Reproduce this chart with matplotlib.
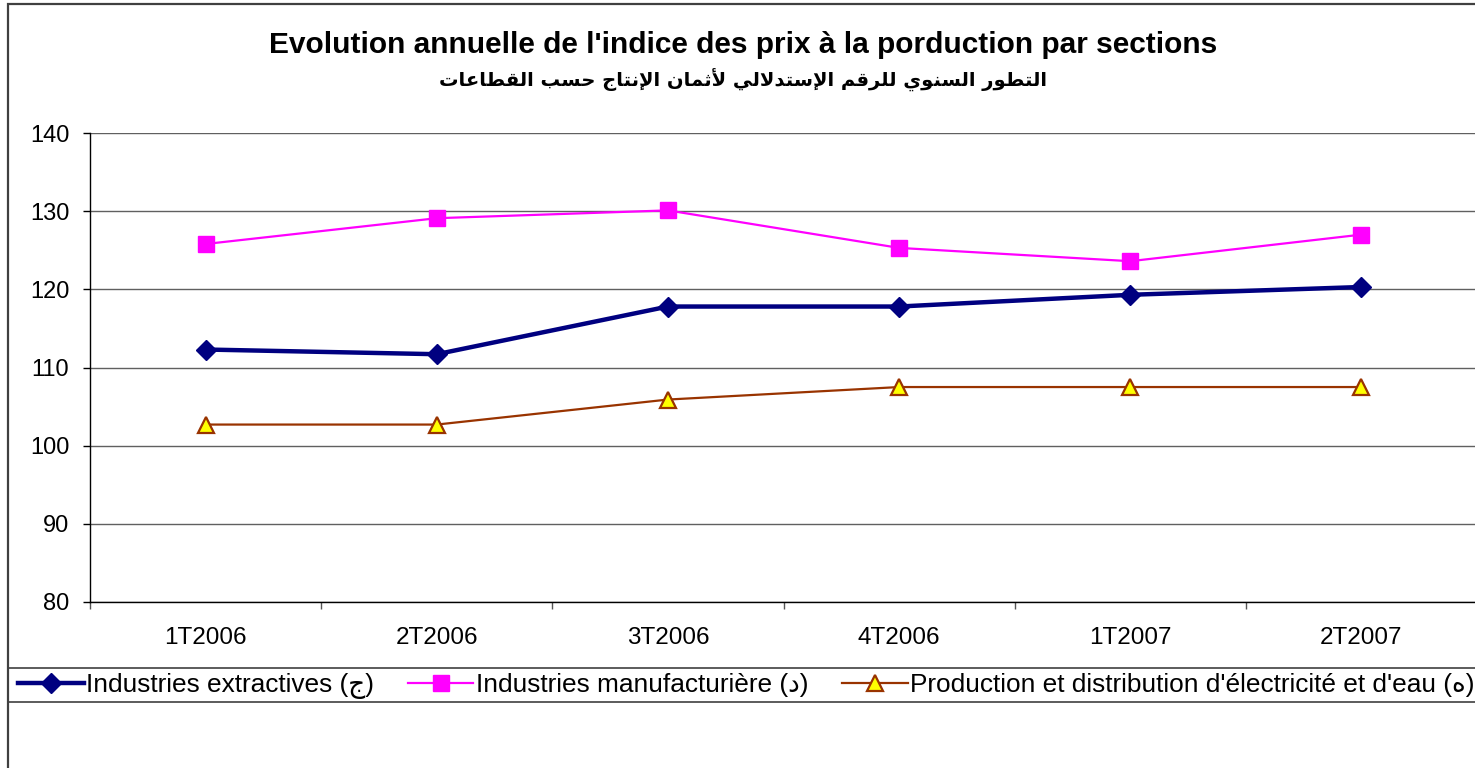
import matplotlib
matplotlib.use("Agg")
import matplotlib.pyplot as plt
from matplotlib.patches import Rectangle

# data
quarters = ["1T2006", "2T2006", "3T2006", "4T2006", "1T2007", "2T2007"]
extractives = [112.3, 111.7, 117.8, 117.8, 119.3, 120.3]
manufacturiere = [125.8, 129.1, 130.1, 125.3, 123.6, 127.0]
electricite = [102.7, 102.7, 105.9, 107.5, 107.5, 107.5]
labels = ["Industries extractives (ج)",
          "Industries manufacturière (د)",
          "Production et distribution d'électricité et d'eau (ه)"]
title = "Evolution annuelle de l'indice des prix à la porduction par sections"
subtitle = "التطور السنوي للرقم الإستدلالي لأثمان الإنتاج حسب القطاعات"

# matplotlib does no Arabic shaping, so pick presentation forms by hand
# (isolated, final, initial, medial); two forms = joins only to the right
forms = {
    "ا": "\uFE8D\uFE8E", "أ": "\uFE83\uFE84", "إ": "\uFE87\uFE88",
    "ب": "\uFE8F\uFE90\uFE91\uFE92", "ت": "\uFE95\uFE96\uFE97\uFE98",
    "ث": "\uFE99\uFE9A\uFE9B\uFE9C", "ج": "\uFE9D\uFE9E\uFE9F\uFEA0",
    "ح": "\uFEA1\uFEA2\uFEA3\uFEA4", "د": "\uFEA9\uFEAA", "ر": "\uFEAD\uFEAE",
    "س": "\uFEB1\uFEB2\uFEB3\uFEB4", "ط": "\uFEC1\uFEC2\uFEC3\uFEC4",
    "ع": "\uFEC9\uFECA\uFECB\uFECC", "ق": "\uFED5\uFED6\uFED7\uFED8",
    "ل": "\uFEDD\uFEDE\uFEDF\uFEE0", "م": "\uFEE1\uFEE2\uFEE3\uFEE4",
    "ن": "\uFEE5\uFEE6\uFEE7\uFEE8", "و": "\uFEED\uFEEE",
    "ي": "\uFEF1\uFEF2\uFEF3\uFEF4", "ه": "\uFEE9\uFEEA\uFEEB\uFEEC",
}
lam_alef = {"ا": "\uFEFB\uFEFC", "أ": "\uFEF7\uFEF8", "إ": "\uFEF9\uFEFA"}


def shape_arabic(text):
    out = []
    i = 0
    while i < len(text):
        ch = text[i]
        if ch not in forms:
            out.append(ch)
            i += 1
            continue
        prev = text[i - 1] if i > 0 else ""
        joins_prev = prev in forms and len(forms[prev]) == 4
        if ch == "ل" and i + 1 < len(text) and text[i + 1] in lam_alef:
            out.append(lam_alef[text[i + 1]][1 if joins_prev else 0])
            i += 2
            continue
        nxt = text[i + 1] if i + 1 < len(text) else ""
        joins_next = len(forms[ch]) == 4 and nxt in forms
        if joins_prev and joins_next:
            k = 3
        elif joins_prev:
            k = 1
        elif joins_next:
            k = 2
        else:
            k = 0
        out.append(forms[ch][k])
        i += 1
    return "".join(out)[::-1]


fam = ["Liberation Sans", "DejaVu Sans"]
plt.rcParams["font.family"] = fam

W, H = 1475, 768
fig = plt.figure(figsize=(W / 100, H / 100), dpi=100)
ax = fig.add_axes([90 / W, 1 - 602 / H, 1387 / W, 469 / H])

x = list(range(len(quarters)))
ax.plot(x, extractives, color="#000080", lw=3.2, marker="D", ms=10.5,
        mfc="#000080", mec="#000080", label=labels[0], zorder=5)
ax.plot(x, manufacturiere, color="#FF00FF", lw=1.6, marker="s", ms=11,
        mfc="#FF00FF", mec="#FF00FF", label=labels[1], zorder=4)
ax.plot(x, electricite, color="#993300", lw=1.6, marker="^", ms=11,
        mfc="#FFFF00", mec="#993300", mew=1.6, label=labels[2], zorder=4)

ax.set_xlim(-0.5, len(quarters) - 0.5)
ax.set_ylim(80, 140)
ax.set_yticks(range(80, 141, 10))
ax.set_xticks(x)
ax.set_xticklabels(quarters)
ax.set_xticks([v - 0.5 for v in range(len(quarters) + 1)], minor=True)
ax.tick_params(axis="x", which="major", length=0, pad=18, labelsize=17.5)
ax.tick_params(axis="x", which="minor", length=5, width=1, color="#555555")
ax.tick_params(axis="y", length=5, width=1, pad=10, labelsize=17)
ax.grid(axis="y", color="#606060", lw=1)
ax.set_axisbelow(True)
for s in ["top", "right"]:
    ax.spines[s].set_visible(False)
ax.spines["left"].set_linewidth(1)
ax.spines["bottom"].set_linewidth(1)

fig.text(743 / W, 1 - 45 / H, title, ha="center", va="center",
         fontsize=21.5, fontweight="bold")
fig.text(743 / W, 1 - 80 / H, shape_arabic(subtitle), ha="center", va="center",
         fontsize=14, fontweight="bold", family=["DejaVu Sans"])

fig.legend(loc="center left", bbox_to_anchor=(18 / W, 1 - 686 / H), ncol=3,
           frameon=False, fontsize=18.9, handlelength=2.5, handletextpad=0.08,
           columnspacing=1.3, borderaxespad=0, borderpad=0)

# legend box and outer chart frame
fig.patches.append(Rectangle((8 / W, 1 - 702 / H), 1.2, 34 / H,
                             transform=fig.transFigure, fill=False,
                             ec="#404040", lw=1.2))
fig.patches.append(Rectangle((8 / W, -0.2), 1.2, 1.2 - 4 / H,
                             transform=fig.transFigure, fill=False,
                             ec="#404040", lw=1.6))

fig.savefig("out.png", dpi=100)
